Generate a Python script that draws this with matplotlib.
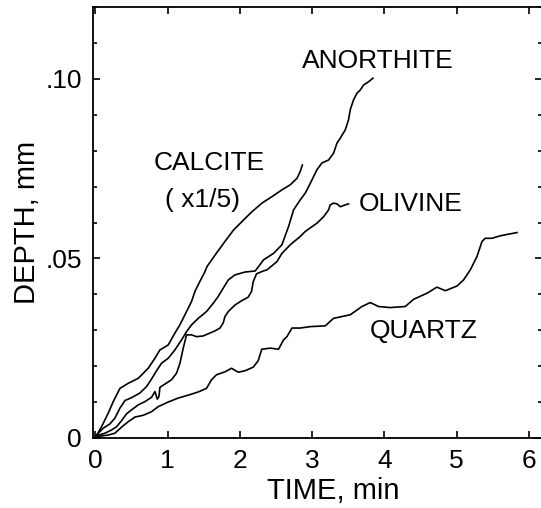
# -*- coding: utf-8 -*-
# depth vs time curves for four minerals

import matplotlib
matplotlib.use("Agg")
from matplotlib import pyplot as plt
from matplotlib.ticker import MultipleLocator, FixedLocator, FixedFormatter

plt.rcParams['font.family'] = ['Liberation Sans', 'DejaVu Sans']

# ---- data (time in min, depth in mm) ----
calcite_t = [0.0, 0.087, 0.180, 0.249, 0.342, 0.456, 0.595, 0.733, 0.826, 0.895,
             1.010, 1.102, 1.171, 1.263, 1.332, 1.379, 1.448, 1.517, 1.545, 1.660,
             1.775, 1.913, 2.051, 2.167, 2.306, 2.444, 2.582, 2.697, 2.790, 2.835,
             2.865]
calcite_d = [0.0, 0.0031, 0.0069, 0.0101, 0.0138, 0.0152, 0.0166, 0.0194, 0.0222, 0.0245,
             0.0259, 0.0292, 0.0315, 0.0352, 0.0380, 0.0408, 0.0436, 0.0463, 0.0477, 0.0510,
             0.0542, 0.0579, 0.0607, 0.0630, 0.0654, 0.0672, 0.0691, 0.0705, 0.0723, 0.0742,
             0.0760]

anorthite_t = [0.0, 0.018, 0.111, 0.203, 0.272, 0.342, 0.411, 0.502, 0.618, 0.710,
               0.779, 0.848, 0.917, 1.010, 1.102, 1.194, 1.263, 1.332, 1.425, 1.539,
               1.632, 1.701, 1.770, 1.840, 1.932, 2.071, 2.213, 2.328, 2.466, 2.582,
               2.674, 2.743, 2.835, 2.905, 2.974, 3.066, 3.136, 3.227, 3.296, 3.343,
               3.389, 3.458, 3.503, 3.527, 3.573, 3.620, 3.665, 3.711, 3.780, 3.841]
anorthite_d = [0.0, 0.0008, 0.0027, 0.0039, 0.0055, 0.0083, 0.0104, 0.0112, 0.0125, 0.0143,
               0.0164, 0.0187, 0.0208, 0.0222, 0.0245, 0.0273, 0.0296, 0.0315, 0.0333, 0.0352,
               0.0375, 0.0394, 0.0417, 0.0440, 0.0454, 0.0462, 0.0465, 0.0496, 0.0514, 0.0538,
               0.0589, 0.0635, 0.0663, 0.0682, 0.0709, 0.0747, 0.0766, 0.0774, 0.0793, 0.0821,
               0.0835, 0.0858, 0.0886, 0.0914, 0.0942, 0.0960, 0.0969, 0.0983, 0.0992, 0.1002]

olivine_t = [0.0, 0.018, 0.134, 0.225, 0.295, 0.364, 0.433, 0.502, 0.595, 0.687,
             0.779, 0.826, 0.840, 0.858, 0.881, 0.895, 0.964, 1.055, 1.124, 1.172,
             1.217, 1.263, 1.332, 1.401, 1.494, 1.586, 1.656, 1.725, 1.770, 1.794,
             1.840, 1.932, 2.024, 2.116, 2.162, 2.185, 2.231, 2.324, 2.375, 2.513,
             2.582, 2.697, 2.835, 2.905, 2.974, 3.066, 3.158, 3.227, 3.250, 3.296,
             3.343, 3.389, 3.458, 3.503]
olivine_d = [0.0, 0.0006, 0.0013, 0.0022, 0.0031, 0.0048, 0.0067, 0.0078, 0.0092, 0.0101,
             0.0113, 0.0129, 0.0120, 0.0108, 0.0115, 0.0141, 0.0150, 0.0162, 0.0180, 0.0208,
             0.0250, 0.0287, 0.0287, 0.0282, 0.0284, 0.0292, 0.0298, 0.0306, 0.0320, 0.0338,
             0.0352, 0.0370, 0.0382, 0.0392, 0.0408, 0.0435, 0.0457, 0.0465, 0.0468, 0.0491,
             0.0514, 0.0538, 0.0561, 0.0575, 0.0585, 0.0598, 0.0616, 0.0635, 0.0649, 0.0654,
             0.0652, 0.0644, 0.0649, 0.0652]

quartz_t = [0.0, 0.041, 0.180, 0.272, 0.364, 0.456, 0.549, 0.664, 0.779, 0.871,
            1.010, 1.148, 1.286, 1.425, 1.539, 1.609, 1.678, 1.794, 1.885, 1.978,
            2.071, 2.185, 2.254, 2.303, 2.420, 2.535, 2.604, 2.651, 2.721, 2.835,
            2.974, 3.181, 3.296, 3.527, 3.689, 3.804, 3.918, 4.080, 4.288, 4.402,
            4.588, 4.726, 4.841, 5.003, 5.094, 5.187, 5.279, 5.349, 5.394, 5.487,
            5.602, 5.833]
quartz_d = [0.0, 0.0004, 0.0008, 0.0013, 0.0030, 0.0045, 0.0058, 0.0063, 0.0073, 0.0087,
            0.0100, 0.0111, 0.0119, 0.0128, 0.0138, 0.0162, 0.0176, 0.0184, 0.0194, 0.0183,
            0.0187, 0.0197, 0.0215, 0.0247, 0.0250, 0.0247, 0.0273, 0.0282, 0.0306, 0.0306,
            0.0310, 0.0312, 0.0333, 0.0343, 0.0366, 0.0377, 0.0366, 0.0363, 0.0366, 0.0386,
            0.0403, 0.0420, 0.0410, 0.0423, 0.0440, 0.0468, 0.0505, 0.0547, 0.0556, 0.0556,
            0.0563, 0.0572]

x_ticks = [0, 1, 2, 3, 4, 5, 6]
y_ticks = [0.0, 0.05, 0.10]
y_tick_labels = ["0", ".05", ".10"]

# labels next to the curves: (text, time, depth)
labels = [("ANORTHITE", 3.91, 0.1050),
          ("CALCITE", 1.58, 0.0766),
          ("( x1/5)", 1.49, 0.0663),
          ("OLIVINE", 4.36, 0.0652),
          ("QUARTZ", 4.54, 0.0298)]

# ---- plot ----
fig = plt.figure(figsize=(5.41, 5.08), dpi=100)
ax = fig.add_axes([0.172, 0.138, 0.83, 0.848])

for t, d in [(calcite_t, calcite_d), (anorthite_t, anorthite_d),
             (olivine_t, olivine_d), (quartz_t, quartz_d)]:
    ax.plot(t, d, color="black", lw=1.2)

for txt, tx, ty in labels:
    ax.text(tx, ty, txt, fontsize=19, ha="center", va="center")

ax.set_xlim(-0.03, 6.18)
ax.set_ylim(0, 0.12)

ax.xaxis.set_major_locator(FixedLocator(x_ticks))
ax.yaxis.set_major_locator(FixedLocator(y_ticks))
ax.yaxis.set_major_formatter(FixedFormatter(y_tick_labels))
ax.yaxis.set_minor_locator(MultipleLocator(0.01))

ax.tick_params(which="both", direction="in", top=True, right=True,
               width=1.2, labelsize=19)
ax.tick_params(which="major", length=5, pad=8)
ax.tick_params(which="minor", length=3)

for s in ax.spines.values():
    s.set_linewidth(1.3)
ax.spines["right"].set_visible(False)

ax.set_xlabel("TIME, min", fontsize=21, labelpad=3, x=0.534)
ax.set_ylabel("DEPTH, mm", fontsize=21, labelpad=3)

plt.savefig("out.png", dpi=100)
